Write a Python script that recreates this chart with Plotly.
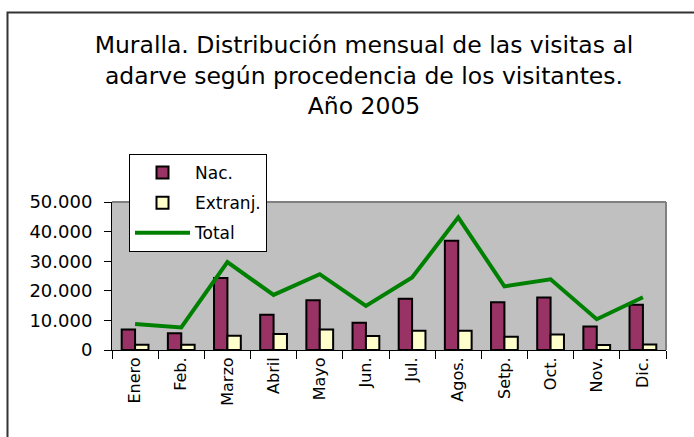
import plotly.graph_objects as go

meses = ["Enero", "Feb.", "Marzo", "Abril", "Mayo", "Jun.", "Jul.", "Agos.", "Setp.", "Oct.", "Nov.", "Dic."]
nac = [6900, 5700, 24300, 11900, 16800, 9200, 17300, 36900, 16100, 17700, 7900, 15300]
extranj = [1800, 1800, 4800, 5400, 6900, 4700, 6500, 6500, 4500, 5200, 1700, 1900]
total = [8800, 7600, 29700, 18600, 25600, 14900, 24500, 44800, 21500, 23900, 10400, 17800]

FONT = "DejaVu Sans"

fig = go.Figure()
fig.add_trace(go.Bar(x=meses, y=nac, name="Nac.", legendgroup="a",
                     marker=dict(color="#993366", line=dict(color="black", width=2))))
fig.add_trace(go.Bar(x=meses, y=extranj, name="Extranj.", legendgroup="b",
                     marker=dict(color="#FFFFCC", line=dict(color="black", width=2))))
fig.add_trace(go.Scatter(x=meses, y=total, name="Total", mode="lines", legendgroup="c",
                         line=dict(color="#008000", width=4)))

L, R, T, B = 112, 28, 202, 87
W, H = 694, 437
pw, ph = W - L - R, H - T - B

def px_x(x):
    return (x - L) / pw

def px_y(y):
    return (H - B - y) / ph

fig.update_layout(
    width=W, height=H,
    margin=dict(l=L, r=R, t=T, b=B, autoexpand=False),
    paper_bgcolor="white",
    plot_bgcolor="#C0C0C0",
    separators=",.",
    barmode="group",
    bargap=0.42,
    bargroupgap=0,
    font=dict(family=FONT, color="black", size=16),
    title=dict(
        text="Muralla. Distribución mensual de las visitas al<br>adarve según procedencia de los visitantes.<br>Año 2005",
        x=364 / W, xanchor="center",
        y=1 - 53 / H, yanchor="top", yref="container",
        font=dict(family=FONT, size=23.5, color="black"),
    ),
    legend=dict(
        x=px_x(129), y=px_y(154), xanchor="left", yanchor="top",
        bgcolor="white", bordercolor="black", borderwidth=1,
        font=dict(family=FONT, size=17, color="black"),
        traceorder="grouped", tracegroupgap=5, itemwidth=55,
    ),
    xaxis=dict(
        type="category",
        showgrid=False,
        showline=True, linecolor="black", linewidth=1,
        ticks="outside", ticklen=8, tickcolor="black", tickwidth=1,
        tickson="boundaries",
        tickangle=-90,
        tickfont=dict(family=FONT, size=16, color="black"),
    ),
    yaxis=dict(
        range=[0, 50000], dtick=10000, tickformat=",d",
        showgrid=False, zeroline=False,
        showline=True, linecolor="black", linewidth=1,
        ticks="outside", ticklen=7, tickcolor="black", tickwidth=1,
        ticklabelstandoff=8,
        tickfont=dict(family=FONT, size=18, color="black"),
    ),
    shapes=[
        dict(type="line", xref="paper", yref="paper", x0=0, x1=1, y0=1, y1=1,
             line=dict(color="#808080", width=2)),
        dict(type="line", xref="paper", yref="paper", x0=1, x1=1, y0=0, y1=1,
             line=dict(color="#808080", width=2)),
        dict(type="rect", xref="paper", yref="paper", x0=px_x(7.5), x1=px_x(720),
             y0=px_y(12.5), y1=px_y(460), line=dict(color="#333333", width=2),
             fillcolor="rgba(0,0,0,0)", layer="above"),
    ],
)

fig.write_html("out.html", config={"displayModeBar": False},
               post_script="document.body.style.margin='0';")
